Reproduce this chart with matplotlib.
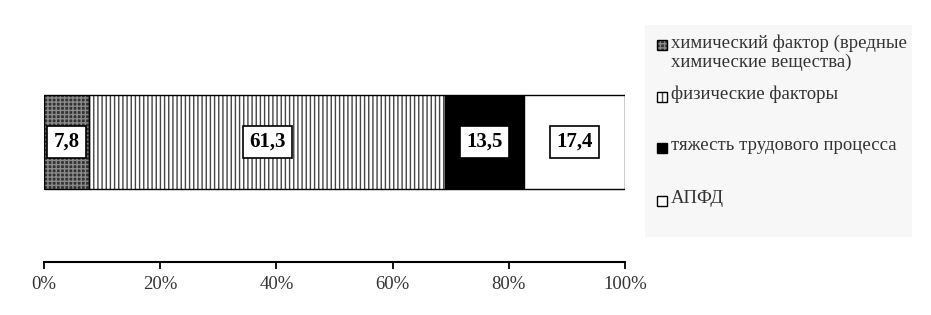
import matplotlib.pyplot as plt
from matplotlib.patches import Rectangle
from matplotlib.ticker import FuncFormatter

plt.rcParams['font.family'] = ['Liberation Serif', 'DejaVu Serif']
plt.rcParams['hatch.linewidth'] = 1.0

categories = ['химический фактор (вредные\nхимические вещества)',
              'физические факторы',
              'тяжесть трудового процесса',
              'АПФД']
values = [7.8, 61.3, 13.5, 17.4]
value_labels = ['7,8', '61,3', '13,5', '17,4']
ticks = [0, 20, 40, 60, 80, 100]

faces = ['#333333', 'white', 'black', 'white']
hatches = ['++++', '||||', '', '']
hatch_cols = ['#8a8a8a', '#444444', 'black', 'black']

fig = plt.figure(figsize=(9.31, 3.15), dpi=100)
ax = fig.add_axes([44 / 931, 53 / 315, 581 / 931, 232 / 315])

left = 0
for v, lab, fc, h, hc in zip(values, value_labels, faces, hatches, hatch_cols):
    ax.barh(0.5175, v, height=0.405, left=left, color=fc, hatch=h,
            edgecolor=hc, linewidth=0)
    ax.barh(0.5175, v, height=0.405, left=left, fill=False,
            edgecolor='black', linewidth=1.0)
    ax.text(left + v / 2, 0.5175, lab, ha='center', va='center',
            fontsize=15, fontweight='bold',
            bbox=dict(boxstyle='square,pad=0.3', fc='white', ec='black', lw=1.2))
    left += v

ax.set_xlim(0, 100)
ax.set_ylim(0, 1)
ax.set_xticks(ticks)
ax.xaxis.set_major_formatter(FuncFormatter(lambda x, p: f'{x:.0f}%'))
ax.tick_params(axis='x', direction='out', length=5, width=1.3, labelsize=13.5,
               pad=5, colors='black', labelcolor='#333333')
ax.set_yticks([])
for s in ['top', 'left', 'right']:
    ax.spines[s].set_visible(False)
ax.spines['bottom'].set_linewidth(1.5)

# legend drawn by hand to keep the Word-like look
W, H = 931, 315
fig.patches.append(Rectangle((645 / W, 1 - 237 / H), 267 / W, 212 / H,
                             transform=fig.transFigure, fc='#f7f7f7', ec='none'))
leg_y = [45, 97, 148, 201]
for cat, fc, h, hc, y in zip(categories, faces, hatches, hatch_cols, leg_y):
    sq = Rectangle((657 / W, 1 - (y + 5) / H), 10 / W, 10 / H,
                   transform=fig.transFigure, fc=fc, hatch=h.replace('||||', '||'),
                   ec=hc, lw=0)
    fig.patches.append(sq)
    fig.patches.append(Rectangle((657 / W, 1 - (y + 5) / H), 10 / W, 10 / H,
                                 transform=fig.transFigure, fill=False,
                                 ec='black', lw=1.0))
    fig.text(671 / W, 1 - (y - 11) / H, cat, ha='left', va='top', fontsize=13.5,
             color='#333333', linespacing=1.15)

fig.savefig('out.png', dpi=100)
